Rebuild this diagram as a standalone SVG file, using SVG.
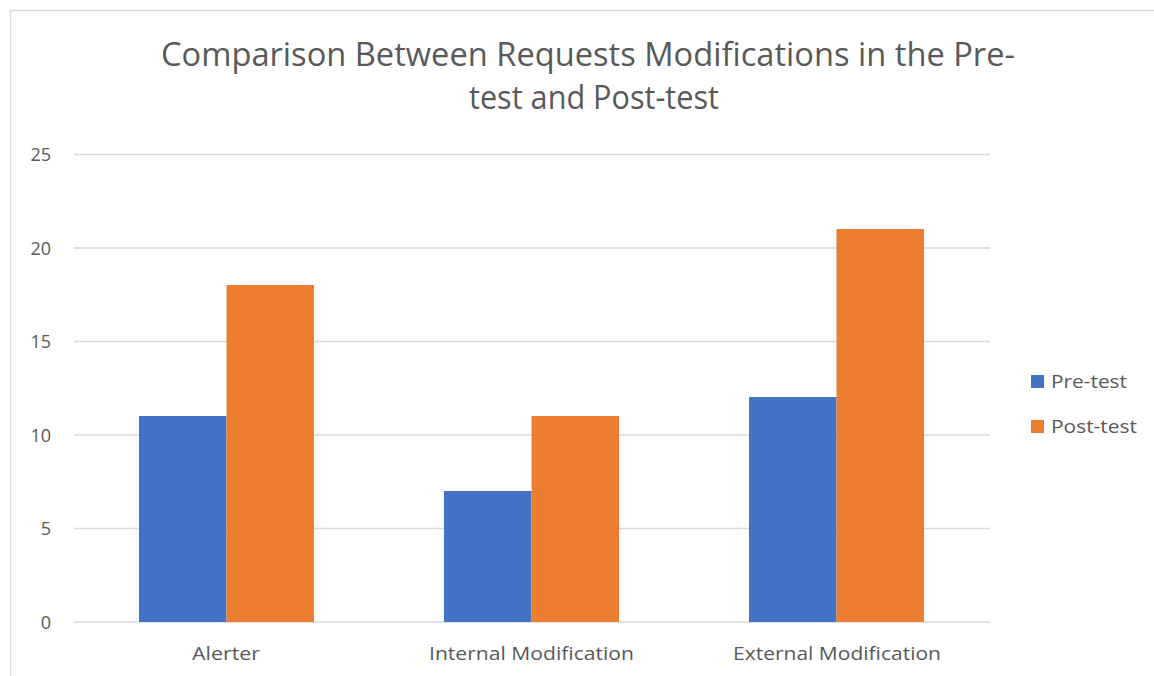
<svg xmlns="http://www.w3.org/2000/svg" width="1154" height="676" viewBox="0 0 1154 676">
<style>
.t{font-family:"Open Sans","Noto Sans","Liberation Sans",sans-serif;fill:#595959}
.title{font-size:32px}
.ax{font-size:18px}
.grid{stroke:#d9d9d9;stroke-width:1.5;fill:none}
.pre{fill:#4472c4}
.post{fill:#ed7d31}
</style>
<rect width="1154" height="676" fill="#ffffff"/>
<path d="M10.5 676 V10.5 H1154" fill="none" stroke="#d9d9d9" stroke-width="1.5"/>
<g id="title">
<text class="t title" x="161" y="66" textLength="854" lengthAdjust="spacingAndGlyphs">Comparison Between Requests Modifications in the Pre-</text>
<text class="t title" x="469" y="109" textLength="250" lengthAdjust="spacingAndGlyphs">test and Post-test</text>
</g>
<g id="gridlines">
<line class="grid" x1="74" y1="154.5" x2="990" y2="154.5"/>
<line class="grid" x1="74" y1="248" x2="990" y2="248"/>
<line class="grid" x1="74" y1="341.5" x2="990" y2="341.5"/>
<line class="grid" x1="74" y1="435" x2="990" y2="435"/>
<line class="grid" x1="74" y1="528.5" x2="990" y2="528.5"/>
<line class="grid" x1="74" y1="622" x2="990" y2="622"/>
</g>
<g id="y-axis-labels">
<text class="t ax" x="51" y="161" text-anchor="end">25</text>
<text class="t ax" x="51" y="255" text-anchor="end">20</text>
<text class="t ax" x="51" y="348" text-anchor="end">15</text>
<text class="t ax" x="51" y="442" text-anchor="end">10</text>
<text class="t ax" x="51" y="535" text-anchor="end">5</text>
<text class="t ax" x="51" y="629" text-anchor="end">0</text>
</g>
<g id="bars">
<g id="alerter">
<rect class="pre" x="139" y="416" width="87.5" height="206"/>
<rect class="post" x="226.5" y="285" width="87.5" height="337"/>
</g>
<g id="internal-modification">
<rect class="pre" x="444" y="491" width="87.5" height="131"/>
<rect class="post" x="531.5" y="416" width="87.5" height="206"/>
</g>
<g id="external-modification">
<rect class="pre" x="749" y="397" width="87.5" height="225"/>
<rect class="post" x="836.5" y="229" width="87.5" height="393"/>
</g>
</g>
<g id="x-axis-labels">
<text class="t ax" x="192" y="660" textLength="68" lengthAdjust="spacingAndGlyphs">Alerter</text>
<text class="t ax" x="429" y="660" textLength="205" lengthAdjust="spacingAndGlyphs">Internal Modification</text>
<text class="t ax" x="733" y="660" textLength="208" lengthAdjust="spacingAndGlyphs">External Modification</text>
</g>
<g id="legend">
<g id="legend-pre">
<rect class="pre" x="1031" y="375" width="13" height="13"/>
<text class="t ax" x="1051" y="388" textLength="76" lengthAdjust="spacingAndGlyphs">Pre-test</text>
</g>
<g id="legend-post">
<rect class="post" x="1031" y="420" width="13" height="13"/>
<text class="t ax" x="1051" y="433" textLength="86" lengthAdjust="spacingAndGlyphs">Post-test</text>
</g>
</g>
</svg>
